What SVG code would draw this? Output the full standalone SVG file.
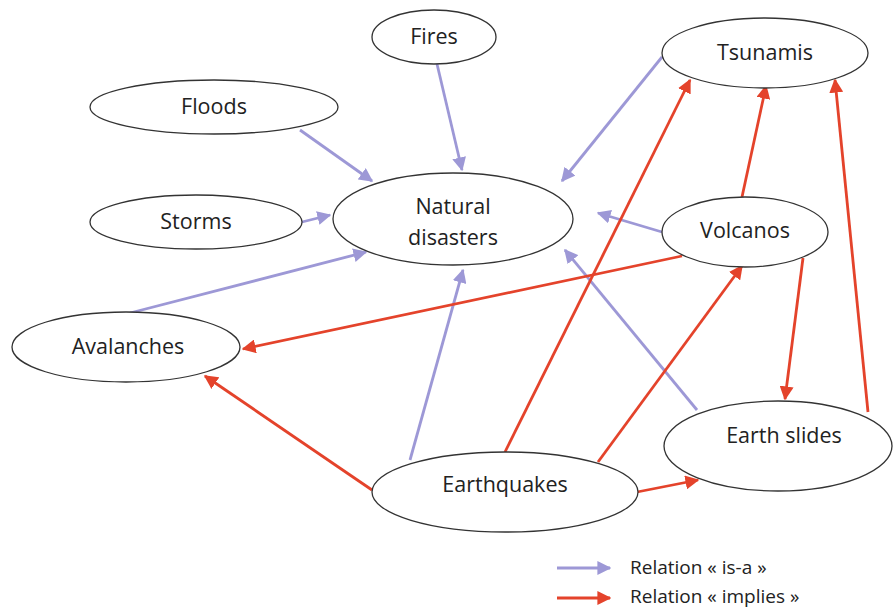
<svg xmlns="http://www.w3.org/2000/svg" width="893" height="611" viewBox="0 0 893 611">
<defs>
<marker id="ab" viewBox="0 0 10 10" refX="9" refY="5" markerWidth="5" markerHeight="5" orient="auto" markerUnits="strokeWidth"><path d="M0,0 L10,5 L0,10 z" fill="#9d98d6"/></marker>
<marker id="ar" viewBox="0 0 10 10" refX="9" refY="5" markerWidth="5" markerHeight="5" orient="auto" markerUnits="strokeWidth"><path d="M0,0 L10,5 L0,10 z" fill="#e4432b"/></marker>
</defs>
<style>
.n{fill:#fff;stroke:#333;stroke-width:1.3}
.t{font-family:"Open Sans","Liberation Sans",sans-serif;font-size:21.5px;font-weight:500;fill:#222;text-anchor:middle}
.b{stroke:#9d98d6;stroke-width:2.8;fill:none;marker-end:url(#ab)}
.r{stroke:#e4432b;stroke-width:2.8;fill:none;marker-end:url(#ar)}
.lg{font-family:"Open Sans","Liberation Sans",sans-serif;font-size:19px;font-weight:500;fill:#222}
</style>
<rect width="893" height="611" fill="#fff"/>
<g id="connectors">
<line class="b" x1="437" y1="64" x2="462" y2="170"/>
<line class="b" x1="300" y1="130" x2="372" y2="181"/>
<line class="b" x1="302" y1="222" x2="330" y2="215"/>
<line class="b" x1="662" y1="57" x2="562" y2="181"/>
<line class="b" x1="662" y1="232" x2="598" y2="213"/>
<line class="b" x1="130" y1="313" x2="366" y2="252"/>
<line class="b" x1="410" y1="460" x2="463" y2="270"/>
<line class="b" x1="697" y1="410" x2="565" y2="250"/>
<line class="r" x1="372" y1="490" x2="205" y2="376"/>
<line class="r" x1="682" y1="256" x2="243" y2="349"/>
<line class="r" x1="505" y1="452" x2="690" y2="80"/>
<line class="r" x1="598" y1="462" x2="742" y2="266"/>
<line class="r" x1="637" y1="492" x2="698" y2="480"/>
<line class="r" x1="742" y1="197" x2="766" y2="86"/>
<line class="r" x1="803" y1="258" x2="785" y2="399"/>
<line class="r" x1="868" y1="412" x2="835" y2="80"/>
</g>
<g id="fires"><ellipse class="n" cx="434" cy="37" rx="62" ry="27"/><text class="t" x="434" y="44">Fires</text></g>
<g id="floods"><ellipse class="n" cx="214" cy="107" rx="124" ry="27"/><text class="t" x="214" y="114">Floods</text></g>
<g id="storms"><ellipse class="n" cx="196" cy="222" rx="106" ry="27"/><text class="t" x="196" y="229">Storms</text></g>
<g id="natural"><ellipse class="n" cx="453" cy="219" rx="120" ry="46"/><text class="t" x="453" y="214">Natural</text><text class="t" x="453" y="245">disasters</text></g>
<g id="tsunamis"><ellipse class="n" cx="765" cy="53" rx="103" ry="35"/><text class="t" x="765" y="60">Tsunamis</text></g>
<g id="volcanos"><ellipse class="n" cx="745" cy="232" rx="83" ry="35"/><text class="t" x="745" y="238">Volcanos</text></g>
<g id="avalanches"><ellipse class="n" cx="126" cy="347" rx="114" ry="35"/><text class="t" x="128" y="354">Avalanches</text></g>
<g id="earthslides"><ellipse class="n" cx="778" cy="446" rx="114" ry="45"/><text class="t" x="784" y="443">Earth slides</text></g>
<g id="earthquakes"><ellipse class="n" cx="505" cy="492" rx="133" ry="40"/><text class="t" x="505" y="492">Earthquakes</text></g>
<g id="legend">
<line class="b" x1="557" y1="568" x2="610" y2="568"/>
<line class="r" x1="557" y1="598" x2="610" y2="598"/>
<text class="lg" x="630" y="574">Relation « is-a »</text>
<text class="lg" x="630" y="603">Relation « implies »</text>
</g>
</svg>
